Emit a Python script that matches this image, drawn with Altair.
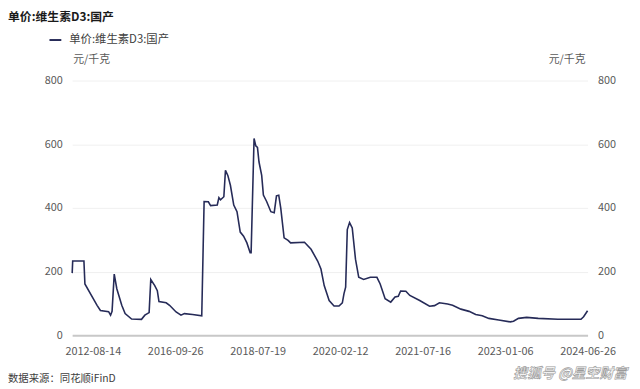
import altair as alt
import pandas as pd

# x position along the (categorical, trading-day) axis, 0..100
seq = [0, 0.1, 2.28, 2.47, 4.83, 5.48, 7.07, 7.45, 7.74, 8.16, 8.66, 9.62, 10.27, 11.53, 13.45, 14.10,
       14.93, 15.25, 16.02, 16.52, 16.84, 18.24, 18.89, 20.16, 21.11, 21.77, 23.36, 25.14, 25.60, 26.42,
       26.86, 28.15, 28.47, 28.78, 29.43, 29.74, 30.20, 30.70, 31.35, 31.98, 32.61, 33.26, 33.90, 34.53,
       34.72, 35.29, 35.62, 35.95, 36.25, 36.77, 37.10, 37.73, 38.55, 39.20, 39.64, 40.08, 40.47, 41.12,
       41.89, 42.38, 45.07, 46.35, 47.63, 48.27, 48.90, 49.86, 50.81, 51.77, 52.42, 52.73, 53.06, 53.38,
       53.82, 54.34, 54.97, 55.60, 56.56, 57.85, 59.13, 59.76, 60.72, 61.81, 62.64, 63.27, 63.73, 64.74,
       65.51, 67.43, 69.34, 70.30, 71.26, 72.85, 73.81, 75.42, 77.01, 78.29, 79.56, 80.84, 82.76, 85.00,
       85.63, 86.59, 88.18, 90.42, 94.25, 98.72, 99.23, 100.0]
price = [195, 233, 233, 161, 94, 78, 74, 63, 75, 192, 146, 94, 68, 51, 50, 63, 71, 175, 156, 140, 106,
         102, 94, 73, 63, 68, 65, 61, 420, 419, 407, 409, 432, 425, 435, 518, 502, 471, 409, 388, 324,
         311, 290, 259, 259, 618, 595, 590, 544, 502, 440, 420, 388, 385, 438, 440, 399, 306, 298, 290,
         292, 270, 233, 208, 156, 109, 92, 92, 102, 130, 151, 332, 354, 337, 239, 182, 175, 182, 182,
         161, 115, 104, 120, 122, 139, 138, 125, 109, 91, 93, 102, 98, 94, 82, 75, 65, 61, 53, 48, 42,
         44, 53, 56, 53, 50, 50, 58, 77]

tick_pos = [4, 20, 36, 52, 68, 84, 100]
tick_labels = ["2012-08-14", "2016-09-26", "2018-07-19", "2020-02-12", "2021-07-16", "2023-01-06", "2024-06-26"]
y_ticks = [0, 200, 400, 600, 800]

title_text = "单价:维生素D3:国产"
legend_text = "单价:维生素D3:国产"
unit_text = "元/千克"
source_text = "数据来源：同花顺iFinD"
watermark_text = "搜狐号 @星空财富"

FONT = "Noto Sans CJK SC"
LINE_COLOR = "#262b58"
LABEL_COLOR = "#595959"

df = pd.DataFrame({"seq": seq, "price": price})

label_expr = " : ".join(f"datum.value == {p} ? '{l}'" for p, l in zip(tick_pos, tick_labels)) + " : ''"

xscale = alt.Scale(domain=[0, 100], nice=False, zero=False)
yscale = alt.Scale(domain=[0, 800], nice=False)

x_enc = alt.X("seq:Q", scale=xscale,
              axis=alt.Axis(values=tick_pos, labelExpr=label_expr, title=None, ticks=False,
                            grid=False, domainColor="#c8c8c8", domainWidth=2,
                            labelColor=LABEL_COLOR, labelFont=FONT, labelFontSize=11,
                            labelPadding=10, labelFlush=False, labelOverlap=False))

base = alt.Chart(df)

line_left = base.mark_line(color=LINE_COLOR, strokeWidth=1.6).encode(
    x=x_enc,
    y=alt.Y("price:Q", scale=yscale,
            axis=alt.Axis(values=y_ticks, title=None, ticks=False, domain=False,
                          grid=True, gridColor="#f0f0f0", gridWidth=1,
                          labelColor=LABEL_COLOR, labelFont=FONT, labelFontSize=11,
                          labelPadding=10)),
)

line_right = base.mark_line(opacity=0).encode(
    x=x_enc,
    y=alt.Y("price:Q", scale=yscale,
            axis=alt.Axis(orient="right", values=y_ticks, title=None, ticks=False, domain=False,
                          grid=False, labelColor=LABEL_COLOR, labelFont=FONT, labelFontSize=11,
                          labelPadding=10)),
)


def text_layer(txt, x, y, size, color, align="left", weight="normal", **kw):
    return alt.Chart(pd.DataFrame({"t": [txt]})).mark_text(
        align=align, baseline="middle", font=FONT, fontSize=size, color=color,
        fontWeight=weight, **kw
    ).encode(x=alt.value(x), y=alt.value(y), text="t:N")


title = text_layer(title_text, -65, -64, 12, "#1a1a1a", weight="bold")
legend_sym = alt.Chart(pd.DataFrame({"t": [legend_text]})).mark_rule(
    color=LINE_COLOR, strokeWidth=2
).encode(x=alt.value(-23), x2=alt.value(-11), y=alt.value(-41))
legend_lbl = text_layer(legend_text, -3, -41, 11.5, "#404040")
unit_left = text_layer(unit_text, 1, -21, 11, LABEL_COLOR)
unit_right = text_layer(unit_text, 520, -21, 11, LABEL_COLOR, align="right")
source = text_layer(source_text, -65, 302, 10.5, "#404040")
watermark = text_layer(watermark_text, 562, 297, 14, "#f2f2f2", align="right",
                       weight="bold", stroke="#9a9a9a", strokeWidth=0.6, fontStyle="italic")

chart = alt.layer(
    line_left, line_right, title, legend_sym, legend_lbl, unit_left, unit_right, source, watermark
).resolve_scale(y="independent").properties(
    width=522, height=258,
    autosize=alt.AutoSizeParams(type="none"),
    padding={"left": 65, "top": 71, "right": 45, "bottom": 52},
    background="white",
).configure_view(stroke=None)

chart.save("out.html", embed_options={"renderer": "svg", "actions": False})
